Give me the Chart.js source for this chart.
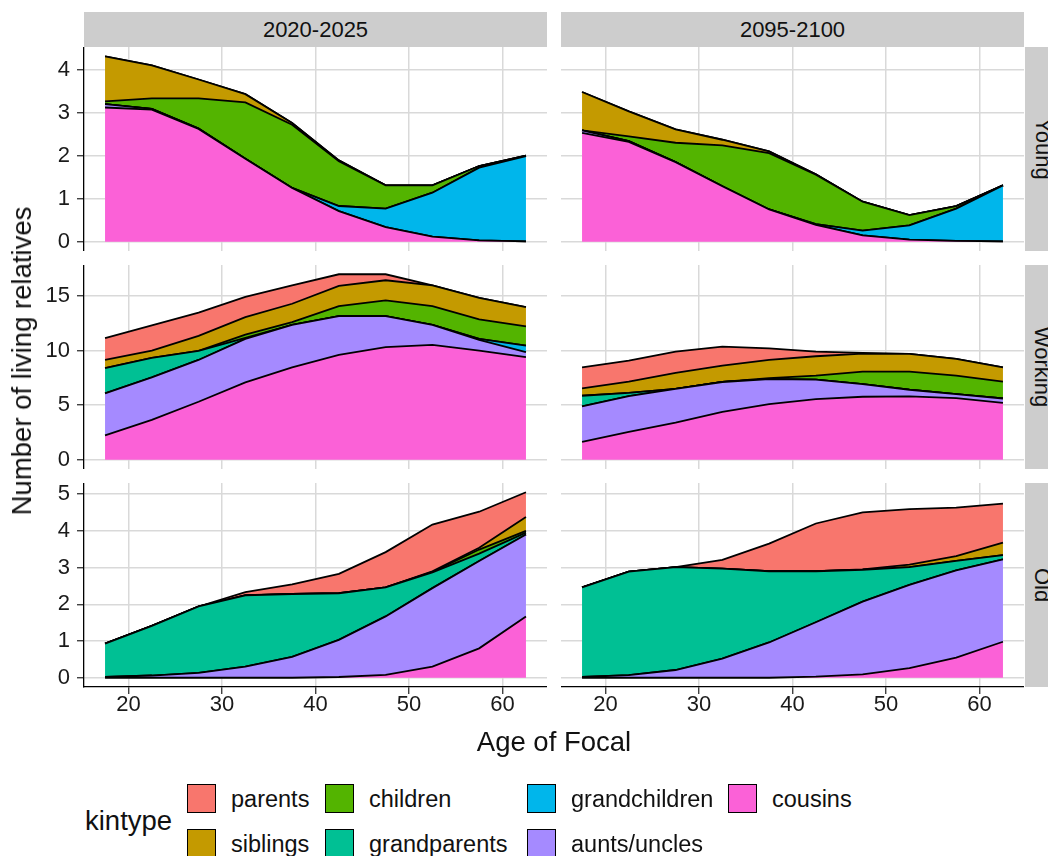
<!DOCTYPE html>
<html>
<head>
<meta charset="utf-8">
<script src="https://cdn.jsdelivr.net/npm/chart.js@4.4.1/dist/chart.umd.min.js"></script>
<style>
  body { margin: 0; width: 1048px; height: 856px; overflow: hidden; position: relative; background: #fff;
         font-family: "Liberation Sans", Arial, sans-serif; color: #111; }
  canvas { position: absolute; }
  .strip { position: absolute; background: #cdcdcd; display: flex; align-items: center; justify-content: center; font-size: 22px; }
  .strip span { white-space: nowrap; }
  .rstrip span { transform: rotate(90deg); }
  .label { position: absolute; white-space: nowrap; }
  .key { position: absolute; width: 29px; height: 29px; box-sizing: border-box; border: 1.5px solid #000; }
</style>
</head>
<body>
<script>
// --- DATA ---
const ages = [17.5, 22.5, 27.5, 32.5, 37.5, 42.5, 47.5, 52.5, 57.5, 62.5];
const kinTypes = ['parents', 'siblings', 'children', 'grandparents', 'grandchildren', 'aunts/uncles', 'cousins'];
const kinColors = ['#F8766D', '#C49A00', '#53B400', '#00C094', '#00B6EB', '#A58AFF', '#FB61D7'];
const periods = ['2020-2025', '2095-2100'];
const ageGroups = ['Young', 'Working', 'Old'];
const xTickStep = 10;
const yTickStep = [1, 5, 1];

// rows follow kinTypes order
const young2020 = [
  [0, 0, 0, 0, 0, 0, 0, 0, 0, 0],
  [1.05, 0.77, 0.44, 0.19, 0.04, 0.02, 0, 0, 0, 0],
  [0.06, 0.24, 0.70, 1.31, 1.47, 1.04, 0.54, 0.17, 0.04, 0.01],
  [0, 0, 0, 0, 0, 0, 0, 0, 0, 0],
  [0, 0, 0, 0, 0, 0.12, 0.43, 1.02, 1.69, 1.98],
  [0.08, 0.02, 0.01, 0, 0, 0, 0, 0, 0, 0],
  [3.12, 3.07, 2.62, 1.93, 1.25, 0.71, 0.34, 0.12, 0.03, 0.01]
];
const young2095 = [
  [0, 0, 0, 0, 0, 0, 0, 0, 0, 0],
  [0.89, 0.58, 0.31, 0.13, 0.04, 0.01, 0, 0, 0, 0],
  [0, 0.11, 0.45, 0.95, 1.31, 1.15, 0.67, 0.24, 0.06, 0],
  [0, 0, 0, 0, 0, 0, 0, 0, 0, 0],
  [0, 0, 0, 0, 0, 0.02, 0.11, 0.33, 0.75, 1.30],
  [0.06, 0.02, 0, 0, 0, 0, 0, 0, 0, 0],
  [2.53, 2.32, 1.85, 1.29, 0.75, 0.39, 0.15, 0.05, 0.02, 0.01]
];
const working2020 = [
  [1.99, 2.30, 2.12, 1.84, 1.69, 1.07, 0.55, 0, 0, 0],
  [0.74, 0.67, 1.38, 1.60, 1.68, 1.84, 1.84, 1.90, 1.97, 1.78],
  [0, 0, 0, 0.30, 0.25, 0.92, 1.44, 1.72, 1.78, 1.75],
  [2.33, 1.78, 0.83, 0.10, 0, 0, 0, 0, 0, 0],
  [0, 0, 0, 0, 0, 0, 0, 0, 0.09, 0.61],
  [3.83, 3.90, 3.83, 3.98, 3.89, 3.56, 2.85, 1.84, 0.98, 0.46],
  [2.24, 3.65, 5.31, 7.09, 8.47, 9.60, 10.31, 10.52, 10.00, 9.39]
];
const working2095 = [
  [1.94, 1.93, 1.95, 1.75, 1.07, 0.43, 0.06, 0, 0, 0],
  [0.67, 1.02, 1.46, 1.50, 1.66, 1.78, 1.65, 1.62, 1.53, 1.32],
  [0, 0, 0, 0, 0.09, 0.37, 1.14, 1.66, 1.69, 1.54],
  [0.98, 0.30, 0, 0, 0, 0, 0, 0, 0, 0],
  [0, 0, 0, 0, 0, 0, 0, 0, 0, 0],
  [3.25, 3.28, 3.10, 2.73, 2.30, 1.78, 1.16, 0.61, 0.37, 0.40],
  [1.63, 2.55, 3.40, 4.39, 5.09, 5.55, 5.77, 5.80, 5.64, 5.21]
];
const old2020 = [
  [0, 0, 0, 0.08, 0.26, 0.53, 0.96, 1.27, 0.98, 0.67],
  [0, 0, 0, 0.01, 0, 0, 0, 0.02, 0.05, 0.38],
  [0, 0, 0, 0, 0, 0, 0, 0.01, 0.11, 0.05],
  [0.91, 1.35, 1.81, 1.94, 1.71, 1.27, 0.79, 0.43, 0.20, 0.05],
  [0, 0, 0, 0, 0, 0, 0, 0, 0, 0],
  [0.02, 0.06, 0.13, 0.30, 0.57, 1.01, 1.59, 2.14, 2.38, 2.23],
  [0, 0, 0, 0, 0, 0.02, 0.08, 0.30, 0.80, 1.67]
];
const old2095 = [
  [0, 0, 0, 0.24, 0.75, 1.30, 1.55, 1.51, 1.32, 1.06],
  [0, 0, 0, 0, 0, 0, 0.01, 0.07, 0.13, 0.34],
  [0, 0, 0, 0, 0, 0, 0, 0, 0, 0],
  [2.44, 2.82, 2.80, 2.45, 1.94, 1.39, 0.87, 0.48, 0.26, 0.12],
  [0, 0, 0, 0, 0, 0, 0, 0, 0, 0],
  [0.02, 0.07, 0.21, 0.52, 0.96, 1.48, 1.98, 2.27, 2.37, 2.24],
  [0, 0, 0, 0, 0, 0.03, 0.09, 0.26, 0.55, 0.98]
];

const panelData = [[young2020, young2095], [working2020, working2095], [old2020, old2095]];

// --- LAYOUT ---
const FONT = '"Liberation Sans", Arial, sans-serif';
const colLeft = [84, 561];
const rowTop = [47, 265, 483];
const panelW = 463;
const panelH = 204;
const bottomAxisH = 40;
const gridColor = '#d9d9d9';

function addDiv(cls, css, text) {
  const d = document.createElement('div');
  d.className = cls;
  d.style.cssText = css;
  if (text !== undefined) {
    const s = document.createElement('span');
    s.textContent = text;
    d.appendChild(s);
  }
  document.body.appendChild(d);
  return d;
}

function stackedMax(rows) {
  let m = 0;
  ages.forEach((_, i) => {
    m = Math.max(m, rows.reduce((sum, row) => sum + row[i], 0));
  });
  return m;
}

function makePanel(r, c) {
  const canvasLeft = c === 0 ? 0 : colLeft[c];
  const leftPad = colLeft[c] - canvasLeft;
  const bottomPad = r === 2 ? bottomAxisH : 0;
  const canvas = document.createElement('canvas');
  canvas.width = colLeft[c] + panelW - canvasLeft;
  canvas.height = panelH + bottomPad;
  canvas.style.left = canvasLeft + 'px';
  canvas.style.top = rowTop[r] + 'px';
  document.body.appendChild(canvas);

  // free y per row, ggplot-style 5% expansion
  const rowMax = Math.max(stackedMax(panelData[r][0]), stackedMax(panelData[r][1]));
  const span = ages[ages.length - 1] - ages[0];
  const xMin = ages[0] - 0.05 * span;
  const xMax = ages[ages.length - 1] + 0.05 * span;

  const rows = panelData[r][c];
  const datasets = [];
  for (let k = kinTypes.length - 1; k >= 0; k--) {
    datasets.push({
      label: kinTypes[k],
      data: rows[k].map((v, i) => ({ x: ages[i], y: v })),
      backgroundColor: kinColors[k],
      borderColor: '#000',
      borderWidth: 1.8,
      fill: datasets.length === 0 ? 'origin' : '-1',
      pointRadius: 0,
      tension: 0
    });
  }

  const tickFont = { family: FONT, size: 22, lineHeight: 1 };
  new Chart(canvas, {
    type: 'line',
    data: { datasets },
    options: {
      responsive: false,
      animation: false,
      devicePixelRatio: 1,
      layout: { padding: 0 },
      plugins: { legend: { display: false }, tooltip: { enabled: false } },
      scales: {
        x: {
          type: 'linear',
          min: xMin,
          max: xMax,
          ticks: { stepSize: xTickStep, includeBounds: false, display: r === 2, color: '#1a1a1a', font: tickFont, padding: 0 },
          grid: { color: gridColor, lineWidth: 1.5, drawTicks: r === 2, tickLength: 7, tickColor: '#222', tickWidth: 1.2 },
          border: { display: r === 2, color: '#000', width: 1.3 },
          afterFit: s => { s.height = bottomPad; s.paddingLeft = 0; s.paddingRight = 0; s.paddingTop = 0; s.paddingBottom = 0; }
        },
        y: {
          stacked: true,
          min: -0.05 * rowMax,
          max: 1.05 * rowMax,
          ticks: { stepSize: yTickStep[r], includeBounds: false, display: c === 0, color: '#1a1a1a', font: tickFont, padding: 7 },
          grid: { color: gridColor, lineWidth: 1.5, drawTicks: c === 0, tickLength: 7, tickColor: '#222', tickWidth: 1.2 },
          border: { display: c === 0, color: '#000', width: 1.3 },
          afterFit: s => { s.width = leftPad; s.paddingLeft = 0; s.paddingRight = 0; s.paddingTop = 0; s.paddingBottom = 0; }
        }
      }
    }
  });
}

for (let r = 0; r < ageGroups.length; r++) {
  for (let c = 0; c < periods.length; c++) makePanel(r, c);
}

// --- STRIPS ---
periods.forEach((p, c) => {
  addDiv('strip', `left:${colLeft[c]}px;top:12px;width:${panelW}px;height:35px;`, p);
});
ageGroups.forEach((g, r) => {
  addDiv('strip rstrip', `left:1025px;top:${rowTop[r]}px;width:35px;height:${panelH}px;`, g);
});

// --- AXIS TITLES ---
addDiv('label', 'left:22px;top:361px;font-size:27.5px;transform:translate(-50%,-50%) rotate(-90deg);', 'Number of living relatives');
addDiv('label', 'left:554px;top:742px;font-size:27.5px;transform:translate(-50%,-50%);', 'Age of Focal');

// --- LEGEND ---
const legendColX = [187, 325, 527, 728];
const legendRowY = [784, 829];
addDiv('label', 'left:85px;top:821px;font-size:27.5px;transform:translateY(-50%);', 'kintype');
kinTypes.forEach((name, i) => {
  const col = Math.floor(i / 2), row = i % 2;
  const key = addDiv('key', `left:${legendColX[col]}px;top:${legendRowY[row]}px;`);
  key.style.background = kinColors[i];
  addDiv('label', `left:${legendColX[col] + 44}px;top:${legendRowY[row] + 14.5}px;font-size:23.5px;transform:translateY(-50%);`, name);
});
</script>
</body>
</html>
